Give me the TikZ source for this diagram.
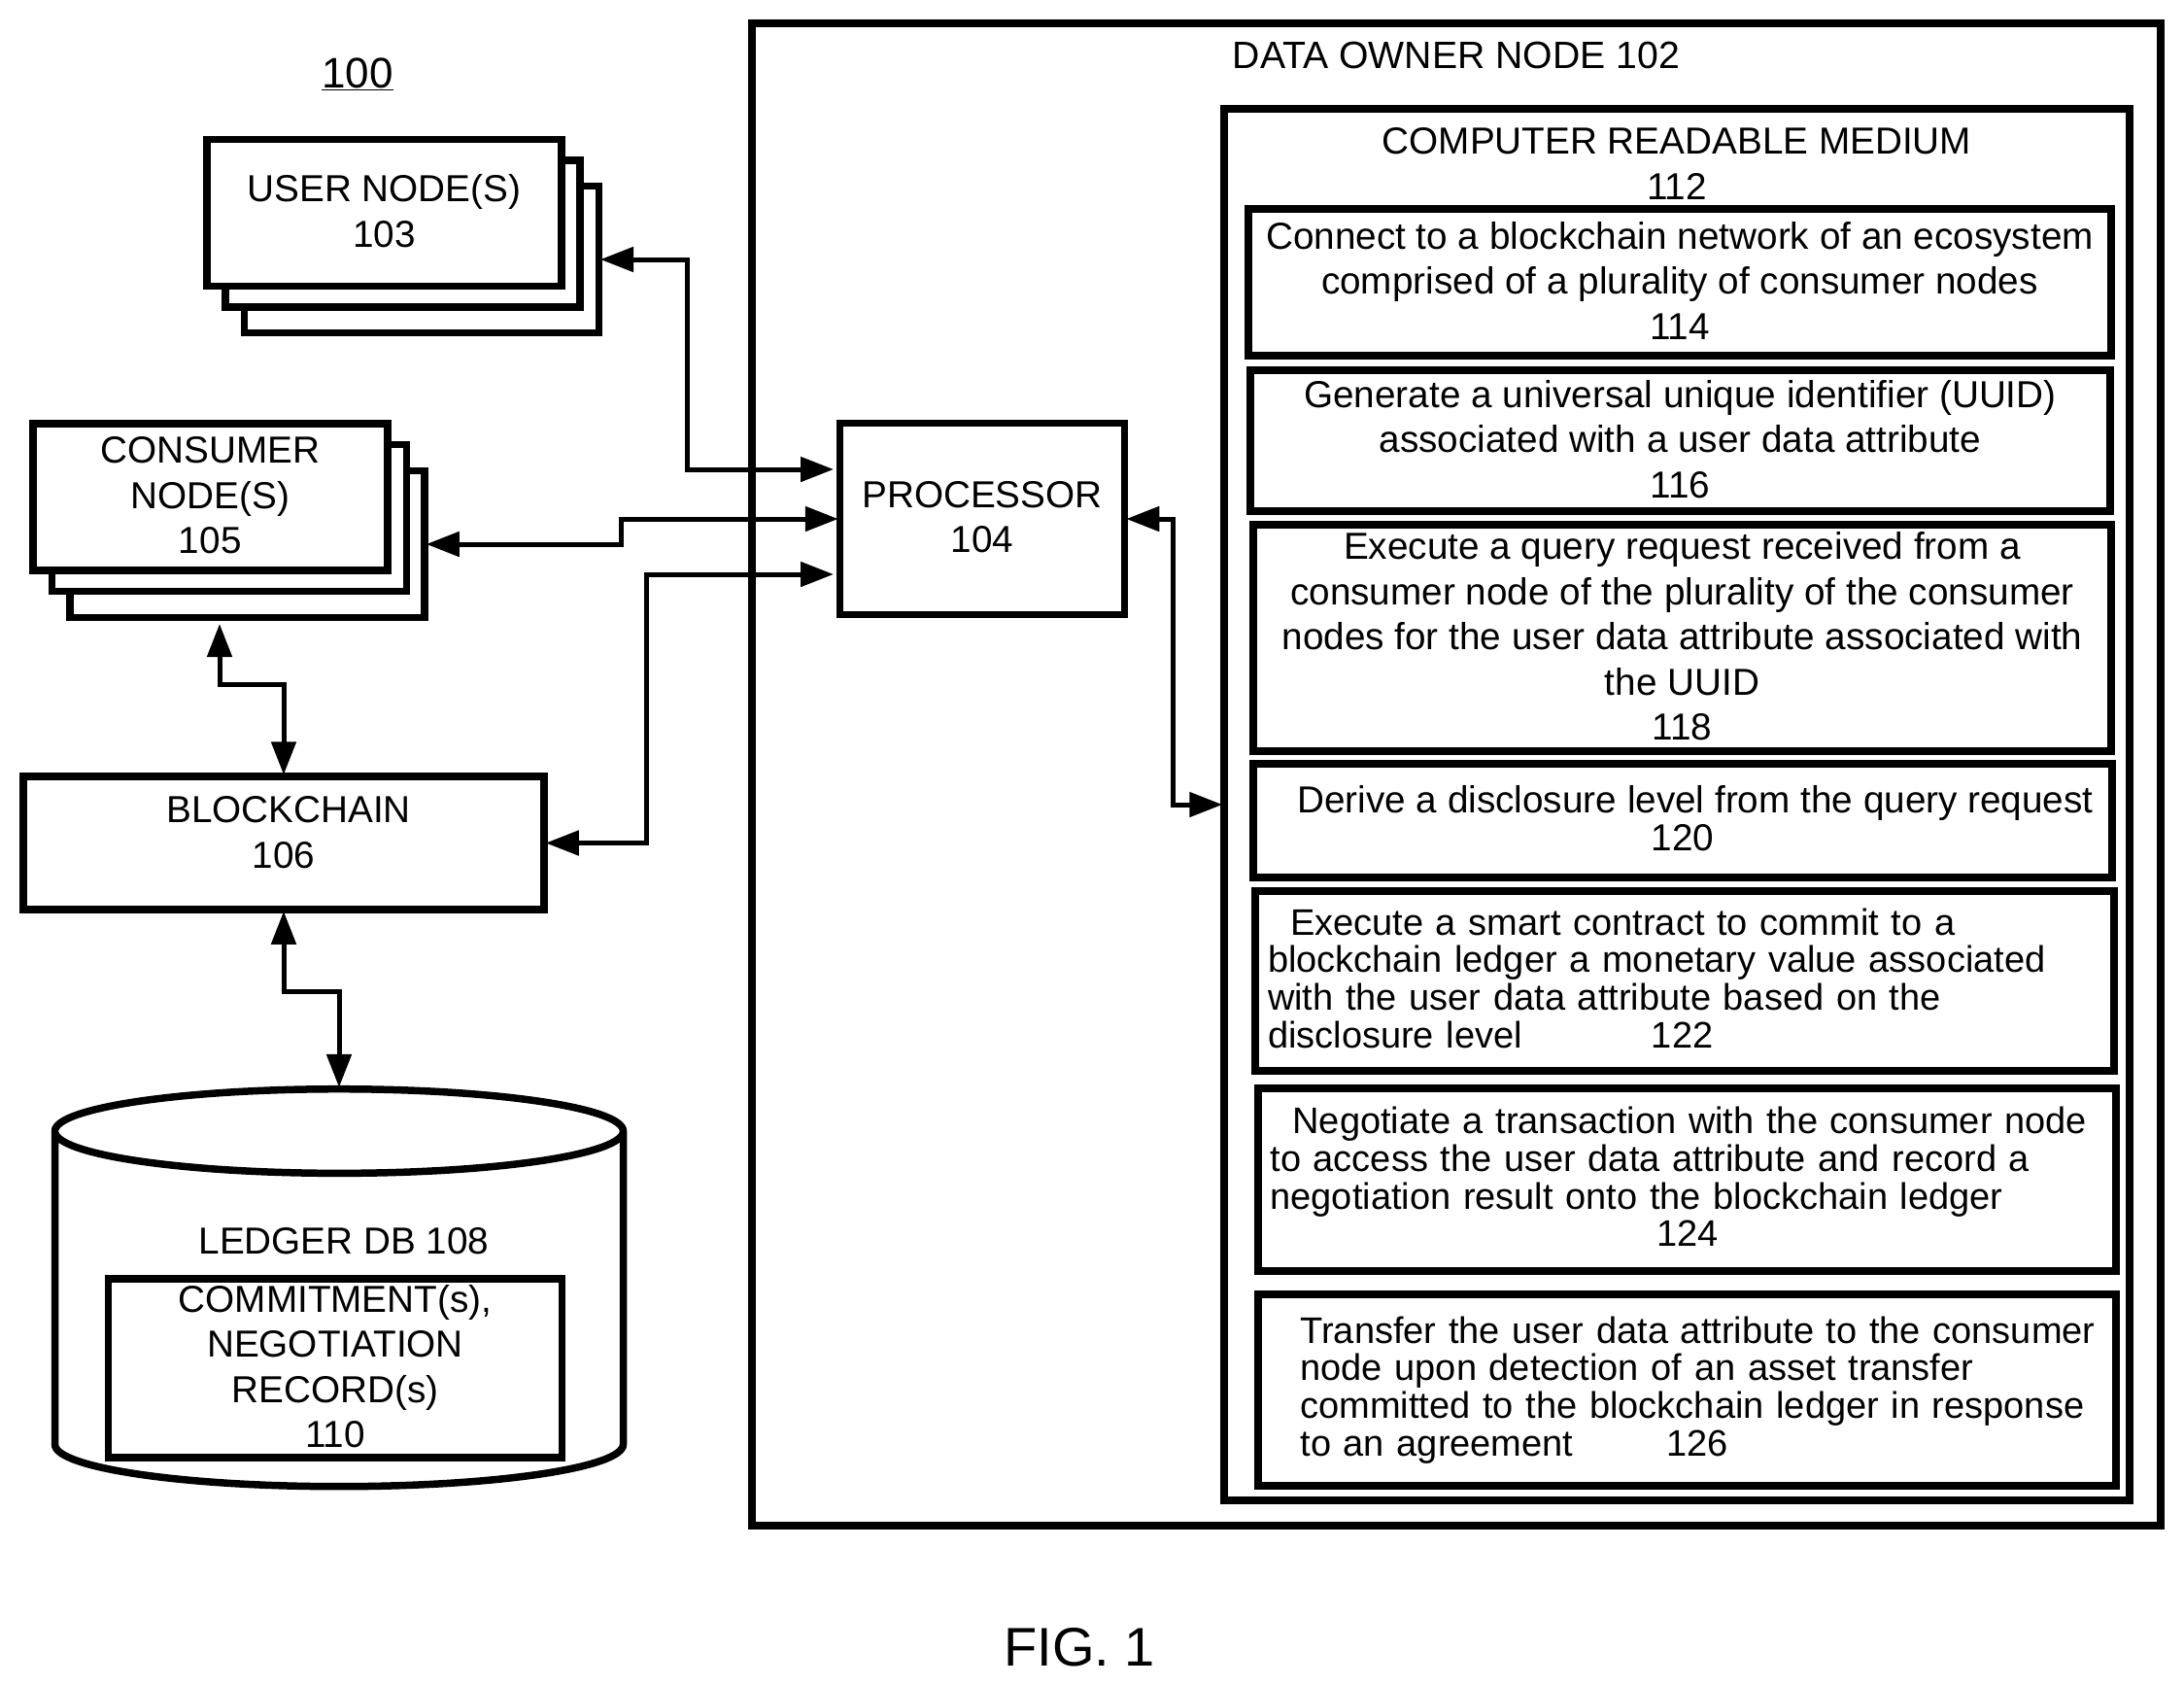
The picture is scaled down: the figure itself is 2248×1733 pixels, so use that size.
\documentclass[tikz,border=0pt]{standalone}
\usepackage{fontspec}
\setmainfont{Liberation Sans}
\usetikzlibrary{shapes,shapes.geometric,arrows.meta}
\newcommand{\liftup}[1]{\\[#1]\mbox{}}
\begin{document}
\begin{tikzpicture}[x=1pt,y=-1pt,
    block_center/.style ={rectangle, draw=black, line width=7.5pt, fill=white,
      inner sep=0pt, align=center, font=\fontsize{38.7}{46.5}\selectfont},
    block_left/.style ={rectangle, draw=black, line width=7.5pt, fill=white,
      inner sep=0pt, text width=858pt, align=left, font=\fontsize{38}{38.7}\selectfont},
    block_stack/.style ={block_center, minimum width=365pt, minimum height=151pt},
    block_noborder/.style ={rectangle, draw=none, inner sep=0pt, align=center,
      font=\fontsize{38.7}{46.5}\selectfont},
    line/.style ={draw, line width=5pt, shorten <=-2pt, shorten >=-2pt,
      {Triangle[length=34pt,width=25pt]}-{Triangle[length=34pt,width=25pt]}}]
    \useasboundingbox (0,0) rectangle (2248,1733);
    % left column
    \node [block_noborder, font=\fontsize{44}{46}\selectfont] (sysnum) at (368,76) {\underline{100}};
    \node [block_stack] (user3) at (433.75,267) {};
    \node [block_stack] (user2) at (414.5,240.5) {};
    \node [block_stack] (user1) at (395.5,218.75) {USER NODE(S)\\103\liftup{-42.5pt}};
    \node [block_stack] (cons3) at (254.5,560) {};
    \node [block_stack] (cons2) at (236,533) {};
    \node [block_stack] (cons1) at (216.25,511.5) {CONSUMER\\NODE(S)\\105\liftup{-42.5pt}};
    \node [block_center, minimum width=536pt, minimum height=137pt] (chain) at (292,867.5)
      {\hspace*{10pt}BLOCKCHAIN\\106\liftup{-24pt}};
    \node [cylinder, shape border rotate=90, aspect=13, draw=black, line width=7.5pt, fill=white,
      minimum width=585pt, minimum height=409pt] (ledger) at (349,1352) {};
    \node [block_noborder] (ledgertext) at (354,1277) {LEDGER DB 108};
    \node [block_center, minimum width=467pt, minimum height=184pt] (records) at (345,1408)
      {COMMITMENT(s),\\NEGOTIATION\\RECORD(s)\\110\liftup{-42.5pt}};
    % data owner node
    \node [block_center, minimum width=1450pt, minimum height=1546pt] (owner) at (1499,797) {};
    \node [block_noborder, font=\fontsize{39.2}{46.5}\selectfont] (ownertext) at (1499,57) {DATA OWNER NODE 102};
    \node [block_center, minimum width=293pt, minimum height=197pt] (proc) at (1011,534) {PROCESSOR\\104\liftup{-42.5pt}};
    \node [block_center, minimum width=932pt, minimum height=1432pt] (medium) at (1726,828) {};
    \node [block_noborder] (mediumtext) at (1726,168.5) {COMPUTER READABLE MEDIUM\\112};
    \node [block_center, minimum width=888pt, minimum height=151pt] (connect) at (1729,290.5)
      {Connect to a blockchain network of an ecosystem\\comprised of a plurality of consumer nodes\\114\liftup{-42.5pt}};
    \node [block_center, minimum width=885pt, minimum height=145pt] (generate) at (1729.5,453.5)
      {Generate a universal unique identifier (UUID)\\associated with a user data attribute\\116\liftup{-42.5pt}};
    \node [block_center, minimum width=883pt, minimum height=233pt] (query) at (1731.5,656.5)
      {Execute a query request received from a\\consumer node of the plurality of the consumer\\nodes for the user data attribute associated with\\the UUID\\118\liftup{-42.5pt}};
    \node [block_center, minimum width=884pt, minimum height=117pt, font=\fontsize{38.7}{39}\selectfont] (derive) at (1732,844.5)
      {\hspace*{26pt}Derive a disclosure level from the query request\\120\liftup{-33pt}};
    \node [block_left, minimum width=884pt, minimum height=185pt] (contract) at (1734,1009.5)
      {\hspace*{23pt}Execute a smart contract to commit to a\\blockchain ledger a monetary value associated\\with the user data attribute based on the\\disclosure level\hspace{133pt}122\liftup{-32.7pt}};
    \node [block_left, minimum width=883pt, minimum height=188pt] (negotiate) at (1736.5,1214)
      {\hspace*{23pt}Negotiate a transaction with the consumer node\\to access the user data attribute and record a\\negotiation result onto the blockchain ledger\\\hspace*{398pt}124\liftup{-32.7pt}};
    \node [block_left, minimum width=883pt, minimum height=197pt] (transfer) at (1736.5,1430.5)
      {\hspace*{31pt}Transfer the user data attribute to the consumer\\\hspace*{31pt}node upon detection of an asset transfer\\\hspace*{31pt}committed to the blockchain ledger in response\\\hspace*{31pt}to an agreement\hspace{96pt}126};
    \node [block_noborder, font=\fontsize{56}{60}\selectfont] (fig) at (1111,1695) {FIG. 1};
    % free ends of the connectors
    \coordinate (proc_top) at (856,483);
    \coordinate (proc_low) at (856,591);
    \coordinate (cons_low) at (226,644);
    % connecting nodes with paths
    \begin{scope}[every path/.style=line]
      \path (user3.east) -- ++(87,0) |- (proc_top);
      \path (cons3.east) -- ++(199,0) |- (proc.west);
      \path (chain.east) -- ++(101.5,0) |- (proc_low);
      \path (proc.east) -- ++(46.5,0) |- (medium.west);
      \path (cons_low) |- (292,704) -- (chain.north);
      \path (chain.south) |- (349,1020) -- (ledger.north);
    \end{scope}
\end{tikzpicture}
\end{document}
